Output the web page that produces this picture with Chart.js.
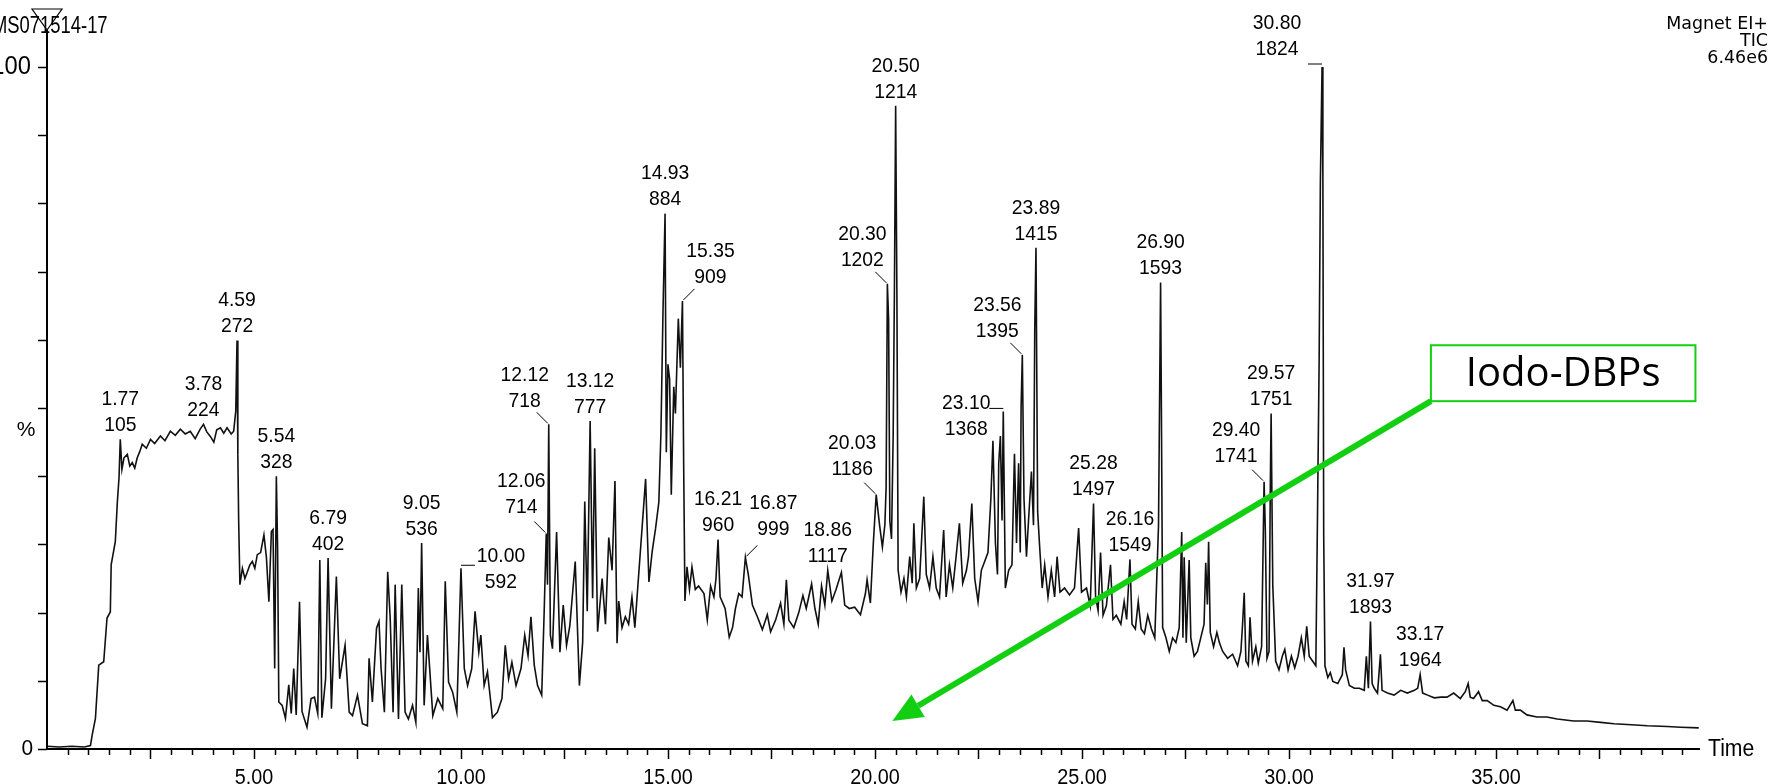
<!DOCTYPE html>
<html>
<head>
<meta charset="utf-8">
<script src="https://cdn.jsdelivr.net/npm/chart.js@4.4.1/dist/chart.umd.min.js"></script>
<style>
  html, body { margin: 0; padding: 0; background: #fff; }
  #chart { display: block; }
</style>
</head>
<body>
<canvas id="chart" width="1771" height="784"></canvas>
<script>
// TIC trace: retention time (min) and relative abundance (%)
const times = [
  0.00, 0.30, 0.60, 0.90, 1.05, 1.09, 1.17, 1.25, 1.37, 1.45,
  1.53, 1.55, 1.65, 1.70, 1.74, 1.77, 1.81, 1.86, 1.94, 2.00,
  2.06, 2.12, 2.18, 2.24, 2.30, 2.40, 2.50, 2.60, 2.74, 2.85,
  2.98, 3.10, 3.22, 3.34, 3.46, 3.58, 3.70, 3.78, 3.86, 3.95,
  4.03, 4.10, 4.19, 4.27, 4.35, 4.45, 4.51, 4.56, 4.59, 4.61,
  4.63, 4.66, 4.72, 4.78, 4.83, 4.90, 4.96, 5.02, 5.08, 5.16,
  5.24, 5.30, 5.36, 5.42, 5.46, 5.50, 5.54, 5.57, 5.60, 5.68,
  5.76, 5.84, 5.90, 5.96, 6.02, 6.10, 6.16, 6.28, 6.38, 6.46,
  6.54, 6.59, 6.64, 6.73, 6.79, 6.87, 6.99, 7.07, 7.20, 7.30,
  7.38, 7.50, 7.62, 7.74, 7.78, 7.86, 7.96, 8.02, 8.07, 8.15,
  8.23, 8.29, 8.36, 8.41, 8.49, 8.57, 8.65, 8.73, 8.83, 8.91,
  8.97, 9.01, 9.05, 9.11, 9.19, 9.32, 9.44, 9.56, 9.62, 9.70,
  9.80, 9.90, 10.00, 10.08, 10.16, 10.26, 10.34, 10.43, 10.48, 10.56,
  10.64, 10.76, 10.88, 10.99, 11.07, 11.15, 11.23, 11.33, 11.45, 11.54,
  11.62, 11.69, 11.77, 11.85, 11.95, 12.01, 12.06, 12.09, 12.12, 12.16,
  12.21, 12.31, 12.39, 12.47, 12.55, 12.63, 12.76, 12.86, 12.94, 12.99,
  13.05, 13.12, 13.18, 13.23, 13.30, 13.41, 13.49, 13.57, 13.65, 13.72,
  13.77, 13.81, 13.89, 13.97, 14.05, 14.13, 14.20, 14.28, 14.36, 14.46,
  14.54, 14.62, 14.70, 14.78, 14.83, 14.88, 14.93, 14.96, 15.00, 15.04,
  15.08, 15.14, 15.18, 15.25, 15.30, 15.35, 15.38, 15.41, 15.46, 15.52,
  15.58, 15.66, 15.74, 15.87, 15.95, 16.03, 16.11, 16.16, 16.21, 16.26,
  16.38, 16.48, 16.56, 16.63, 16.71, 16.79, 16.87, 16.94, 17.04, 17.16,
  17.28, 17.40, 17.48, 17.60, 17.72, 17.80, 17.86, 17.92, 18.04, 18.16,
  18.26, 18.34, 18.47, 18.55, 18.63, 18.71, 18.79, 18.86, 18.96, 19.06,
  19.19, 19.27, 19.38, 19.51, 19.65, 19.77, 19.81, 19.89, 19.96, 20.03,
  20.11, 20.18, 20.24, 20.27, 20.30, 20.33, 20.36, 20.40, 20.44, 20.47,
  20.50, 20.53, 20.56, 20.63, 20.70, 20.76, 20.84, 20.90, 20.94, 21.00,
  21.08, 21.18, 21.24, 21.32, 21.40, 21.48, 21.56, 21.66, 21.72, 21.80,
  21.88, 21.96, 22.04, 22.12, 22.21, 22.26, 22.34, 22.41, 22.49, 22.57,
  22.65, 22.73, 22.80, 22.85, 22.91, 22.96, 22.99, 23.03, 23.07, 23.10,
  23.15, 23.23, 23.31, 23.37, 23.42, 23.47, 23.51, 23.53, 23.56, 23.60,
  23.66, 23.71, 23.78, 23.83, 23.86, 23.89, 23.93, 23.98, 24.04, 24.10,
  24.18, 24.26, 24.34, 24.40, 24.47, 24.58, 24.70, 24.82, 24.92, 24.99,
  25.11, 25.20, 25.28, 25.33, 25.39, 25.45, 25.51, 25.59, 25.69, 25.75,
  25.83, 25.94, 26.02, 26.08, 26.16, 26.21, 26.29, 26.36, 26.43, 26.51,
  26.59, 26.68, 26.76, 26.85, 26.90, 26.92, 26.95, 27.03, 27.11, 27.19,
  27.27, 27.35, 27.41, 27.44, 27.47, 27.52, 27.59, 27.63, 27.71, 27.79,
  27.87, 27.95, 27.99, 28.03, 28.06, 28.10, 28.18, 28.26, 28.32, 28.40,
  28.52, 28.64, 28.76, 28.84, 28.88, 28.92, 28.96, 29.02, 29.06, 29.12,
  29.20, 29.26, 29.34, 29.40, 29.43, 29.47, 29.52, 29.55, 29.57, 29.61,
  29.68, 29.76, 29.84, 29.90, 29.98, 30.06, 30.14, 30.22, 30.30, 30.37,
  30.43, 30.49, 30.57, 30.65, 30.69, 30.73, 30.76, 30.80, 30.82, 30.84,
  30.87, 30.94, 31.00, 31.06, 31.18, 31.29, 31.33, 31.37, 31.46, 31.58,
  31.70, 31.82, 31.87, 31.92, 31.97, 32.01, 32.06, 32.14, 32.21, 32.25,
  32.38, 32.54, 32.70, 32.86, 33.03, 33.11, 33.17, 33.23, 33.35, 33.51,
  33.67, 33.82, 33.98, 34.14, 34.26, 34.33, 34.38, 34.46, 34.58, 34.67,
  34.79, 34.95, 35.11, 35.27, 35.41, 35.47, 35.59, 35.75, 35.99, 36.23,
  36.48, 36.88, 37.20, 37.53, 37.85, 38.17, 38.66, 39.14, 39.46, 39.90
];
const abundance = [
  0.4, 0.3, 0.4, 0.3, 0.5, 2.0, 4.5, 12.3, 12.8, 19.2,
  20.1, 27.0, 30.4, 36.3, 39.8, 45.4, 41.0, 42.7, 43.2, 41.5,
  42.0, 41.2, 42.7, 43.6, 44.7, 44.1, 45.4, 44.8, 45.9, 45.2,
  46.6, 46.0, 46.9, 46.2, 46.6, 45.5, 46.9, 47.6, 46.5, 45.8,
  45.0, 46.8, 47.1, 46.3, 47.1, 46.2, 46.6, 49.6, 59.9, 43.2,
  33.4, 24.1, 26.5, 25.0, 25.8, 27.0, 27.5, 26.5, 28.5, 28.8,
  31.4, 28.1, 21.6, 31.9, 32.2, 11.8, 40.0, 29.6, 6.9, 6.4,
  4.5, 9.4, 5.2, 11.8, 5.0, 21.6, 5.5, 3.2, 7.4, 7.6,
  5.2, 27.7, 4.6, 10.3, 28.0, 5.9, 25.3, 10.3, 15.2, 5.4,
  4.9, 7.9, 3.7, 3.4, 13.3, 6.9, 17.7, 18.7, 11.8, 5.4,
  26.0, 19.2, 5.4, 24.1, 4.4, 24.1, 5.4, 4.4, 6.4, 3.9,
  23.6, 14.2, 30.2, 6.4, 16.7, 4.9, 7.4, 5.9, 24.6, 9.8,
  8.3, 5.4, 26.5, 11.8, 9.3, 11.8, 20.2, 14.2, 16.7, 9.3,
  11.3, 4.6, 5.4, 7.4, 15.2, 10.3, 12.7, 9.3, 11.8, 16.7,
  13.7, 19.4, 12.3, 9.3, 7.9, 20.2, 31.6, 24.1, 47.6, 16.7,
  14.7, 31.8, 14.2, 21.1, 15.2, 18.1, 27.5, 9.3, 15.7, 36.3,
  20.2, 48.1, 22.1, 44.1, 17.2, 25.0, 18.3, 31.0, 26.2, 39.3,
  15.5, 21.7, 17.8, 19.4, 18.3, 22.3, 17.8, 24.5, 31.2, 39.6,
  24.5, 29.0, 32.3, 36.2, 46.3, 64.1, 78.5, 43.5, 56.4, 54.2,
  37.3, 53.1, 49.2, 63.1, 55.9, 65.7, 41.3, 21.7, 26.7, 23.4,
  26.7, 23.4, 23.9, 22.8, 18.9, 23.9, 22.3, 25.0, 30.7, 22.3,
  20.6, 16.4, 17.8, 20.6, 22.8, 22.3, 28.1, 25.6, 21.1, 19.4,
  17.5, 19.7, 17.2, 18.9, 21.4, 18.3, 24.8, 18.9, 17.8, 20.0,
  22.5, 20.6, 24.2, 20.6, 18.3, 23.9, 21.1, 26.2, 21.7, 23.4,
  25.9, 21.1, 20.6, 20.8, 19.7, 22.8, 24.8, 21.4, 30.1, 37.3,
  32.9, 29.6, 32.9, 38.4, 68.2, 63.0, 33.4, 30.8, 45.9, 67.0,
  94.3, 67.0, 26.2, 23.0, 25.0, 22.3, 28.2, 24.3, 33.1, 23.6,
  25.0, 37.0, 25.6, 23.6, 28.2, 23.6, 22.3, 32.1, 22.3, 27.0,
  23.6, 28.2, 33.1, 24.3, 26.2, 28.2, 36.0, 25.0, 21.6, 26.2,
  27.5, 28.8, 36.7, 45.2, 30.2, 25.6, 41.9, 45.9, 33.5, 49.5,
  23.6, 26.2, 27.0, 43.3, 30.2, 41.9, 28.8, 50.0, 57.8, 36.7,
  28.2, 33.5, 40.7, 32.8, 61.4, 73.5, 34.8, 29.5, 23.6, 27.0,
  22.3, 26.2, 22.3, 28.2, 23.0, 23.6, 22.6, 23.6, 32.4, 23.0,
  23.6, 21.0, 36.0, 22.3, 20.3, 28.8, 19.6, 21.0, 27.0, 19.0,
  19.6, 18.3, 21.6, 19.0, 27.8, 18.3, 17.6, 21.6, 17.6, 16.9,
  19.6, 17.6, 16.3, 32.8, 68.4, 49.1, 17.8, 16.3, 14.3, 16.3,
  15.6, 17.8, 31.8, 16.3, 28.1, 15.6, 27.7, 16.3, 13.6, 14.3,
  16.3, 18.3, 27.3, 21.2, 30.4, 17.1, 15.0, 17.1, 15.6, 14.3,
  13.3, 13.9, 12.2, 14.3, 18.3, 22.9, 12.9, 12.2, 19.3, 12.9,
  15.0, 12.6, 15.0, 39.2, 32.1, 13.3, 14.3, 38.2, 49.2, 24.0,
  12.9, 11.6, 13.6, 14.6, 11.6, 13.6, 11.9, 13.6, 16.3, 13.6,
  18.0, 13.6, 12.9, 12.2, 34.1, 57.0, 83.2, 100.0, 84.0, 31.4,
  12.2, 10.5, 11.2, 9.9, 9.6, 10.9, 14.9, 11.6, 9.3, 8.9,
  8.9, 8.6, 13.6, 8.9, 18.7, 9.6, 8.9, 8.2, 13.9, 8.6,
  8.2, 7.9, 8.6, 8.2, 8.6, 8.9, 10.9, 8.2, 7.9, 7.5,
  7.6, 7.6, 8.2, 7.4, 8.4, 9.6, 7.6, 7.4, 8.4, 7.1,
  7.1, 6.4, 6.2, 5.7, 7.1, 5.7, 5.7, 5.0, 4.7, 4.7,
  4.4, 4.1, 4.1, 3.9, 3.7, 3.6, 3.4, 3.3, 3.2, 3.1
];

// labelled peaks: retention time and scan number
const peakTimes = [1.77, 3.78, 4.59, 5.54, 6.79, 9.05, 10.00, 12.06, 12.12, 13.12,
  14.93, 15.35, 16.21, 16.87, 18.86, 20.03, 20.30, 20.50, 23.10, 23.56,
  23.89, 25.28, 26.16, 26.90, 29.40, 29.57, 30.80, 31.97, 33.17];
const peakScans = [105, 224, 272, 328, 402, 536, 592, 714, 718, 777,
  884, 909, 960, 999, 1117, 1186, 1202, 1214, 1368, 1395,
  1415, 1497, 1549, 1593, 1741, 1751, 1824, 1893, 1964];

const xTickLabels = [5, 10, 15, 20, 25, 30, 35];
const yTickValues = [0, 10, 20, 30, 40, 50, 60, 70, 80, 90, 100];

// where a label sits against its peak apex (px), and leader style
const labelPlacement = {
  '10.00': { dx: 40, dy: 14, leader: 'h' },
  '12.06': { dx: -25, dy: -26, leader: 'd' },
  '12.12': { dx: -24, dy: -23, leader: 'd' },
  '15.35': { dx: 28, dy: -24, leader: 'd' },
  '16.87': { dx: 28, dy: -28, leader: 'd' },
  '20.03': { dx: -24, dy: -25, leader: 'd' },
  '20.30': { dx: -25, dy: -24, leader: 'd' },
  '23.10': { dx: -37, dy: 18, leader: 'h' },
  '23.56': { dx: -25, dy: -24, leader: 'd' },
  '29.40': { dx: -28, dy: -25, leader: 'd' },
  '30.80': { dx: -45, dy: -18, leader: 'h' }
};

// green callout, in data units
const callout = { text: 'Iodo-DBPs', left: 33.43, right: 39.82, top: 59.2, bottom: 51.0, tipT: 20.42, tipY: 4.1 };

const green = '#12cf12';
const LABEL_FONT = '"Liberation Sans", Arial, sans-serif';

function squeezeText(ctx, str, x, y, size, align, sx, family) {
  ctx.save();
  ctx.translate(x, y);
  ctx.scale(sx, 1);
  ctx.font = size + 'px ' + (family || LABEL_FONT);
  ctx.textAlign = align;
  ctx.textBaseline = 'middle';
  ctx.fillText(str, 0, 0);
  ctx.restore();
}

const decor = {
  id: 'decor',
  afterDatasetsDraw(chart) {
    const { ctx, chartArea: a, scales: { x, y } } = chart;
    ctx.save();
    ctx.fillStyle = '#000';
    ctx.strokeStyle = '#000';

    // header texts (drawn first, the marker sits over them)
    squeezeText(ctx, 'MS071514-17', -8, 27, 23, 'left', 0.8);
    squeezeText(ctx, 'Magnet EI+', 1768, 24, 18, 'right', 0.97, '"DejaVu Sans", sans-serif');
    squeezeText(ctx, 'TIC', 1768, 41, 18, 'right', 0.97, '"DejaVu Sans", sans-serif');
    squeezeText(ctx, '6.46e6', 1768, 58, 18, 'right', 0.97, '"DejaVu Sans", sans-serif');

    // axes
    ctx.lineWidth = 2;
    ctx.beginPath();
    ctx.moveTo(a.left, a.bottom);
    ctx.lineTo(a.right, a.bottom);
    ctx.moveTo(a.left, a.bottom);
    ctx.lineTo(a.left, 30);
    ctx.stroke();

    // marker triangle on top of the y axis
    ctx.lineWidth = 1.2;
    ctx.beginPath();
    ctx.moveTo(a.left - 15, 9);
    ctx.lineTo(a.left + 15, 9);
    ctx.lineTo(a.left, 30);
    ctx.closePath();
    ctx.stroke();

    // y ticks
    ctx.lineWidth = 1.5;
    yTickValues.forEach(v => {
      const py = Math.round(y.getPixelForValue(v)) + 0.5;
      ctx.beginPath();
      ctx.moveTo(a.left - 9, py);
      ctx.lineTo(a.left, py);
      ctx.stroke();
    });

    // x ticks every 0.5 min, longer every 2.5 min
    for (let i = 1; i * 0.5 <= x.max; i++) {
      const px = Math.round(x.getPixelForValue(i * 0.5)) + 0.5;
      const len = i % 5 === 0 ? 10 : 6;
      ctx.beginPath();
      ctx.moveTo(px, a.bottom);
      ctx.lineTo(px, a.bottom + len);
      ctx.stroke();
    }
    xTickLabels.forEach(v => {
      squeezeText(ctx, v.toFixed(2), x.getPixelForValue(v), a.bottom + 29, 22, 'center', 0.9);
    });
    squeezeText(ctx, 'Time', a.right + 8, a.bottom + 1, 23, 'left', 0.92);

    // y labels (the leading "1" of 100 runs off the left edge)
    squeezeText(ctx, '100', 31, y.getPixelForValue(100), 25, 'right', 0.95);
    squeezeText(ctx, '0', 33, y.getPixelForValue(0), 22, 'right', 0.95);
    squeezeText(ctx, '%', 26, y.getPixelForValue(46.8), 21, 'center', 1.0);

    // peak labels
    ctx.lineWidth = 1;
    peakTimes.forEach((t, i) => {
      const idx = times.indexOf(t);
      const ax = x.getPixelForValue(t);
      const ay = y.getPixelForValue(abundance[idx]);
      const p = labelPlacement[t.toFixed(2)] || { dx: 0, dy: -14 };
      const lx = ax + p.dx;
      const ly = ay + p.dy;
      squeezeText(ctx, t.toFixed(2), lx, ly - 26, 21, 'center', 0.92);
      squeezeText(ctx, String(peakScans[i]), lx, ly, 21, 'center', 0.92);
      const s = Math.sign(p.dx);
      if (p.leader === 'd') {
        ctx.beginPath();
        ctx.moveTo(ax + s * 1, ay - 1);
        ctx.lineTo(ax + s * 12, ay - 12);
        ctx.stroke();
      } else if (p.leader === 'h') {
        ctx.beginPath();
        ctx.moveTo(ax, ay - 3);
        ctx.lineTo(ax + s * 14, ay - 3);
        ctx.stroke();
      }
    });

    // callout box with arrow
    const bx0 = x.getPixelForValue(callout.left);
    const bx1 = x.getPixelForValue(callout.right);
    const by0 = y.getPixelForValue(callout.top);
    const by1 = y.getPixelForValue(callout.bottom);
    ctx.fillStyle = '#fff';
    ctx.fillRect(bx0, by0, bx1 - bx0, by1 - by0);
    ctx.strokeStyle = green;
    ctx.lineWidth = 2;
    ctx.strokeRect(bx0, by0, bx1 - bx0, by1 - by0);
    ctx.fillStyle = '#000';
    squeezeText(ctx, callout.text, (bx0 + bx1) / 2, (by0 + by1) / 2 + 1, 40, 'center', 1.0, '"Open Sans", "Noto Sans", sans-serif');

    const tx = x.getPixelForValue(callout.tipT);
    const ty = y.getPixelForValue(callout.tipY);
    const ang = Math.atan2(ty - by1, tx - bx0);
    const headLen = 30, headW = 13;
    const baseX = tx - Math.cos(ang) * headLen;
    const baseY = ty - Math.sin(ang) * headLen;
    ctx.strokeStyle = green;
    ctx.lineWidth = 6;
    ctx.beginPath();
    ctx.moveTo(bx0, by1);
    ctx.lineTo(baseX, baseY);
    ctx.stroke();
    ctx.fillStyle = green;
    ctx.beginPath();
    ctx.moveTo(tx, ty);
    ctx.lineTo(baseX + Math.sin(ang) * headW, baseY - Math.cos(ang) * headW);
    ctx.lineTo(baseX - Math.sin(ang) * headW, baseY + Math.cos(ang) * headW);
    ctx.closePath();
    ctx.fill();
    ctx.restore();
  }
};

new Chart(document.getElementById('chart'), {
  type: 'line',
  data: {
    datasets: [{
      data: times.map((t, i) => ({ x: t, y: abundance[i] })),
      borderColor: '#111',
      borderWidth: 1.6,
      pointRadius: 0,
      tension: 0,
      fill: false
    }]
  },
  options: {
    responsive: false,
    animation: false,
    devicePixelRatio: 1,
    layout: { padding: { left: 47, right: 71, top: 67, bottom: 35 } },
    plugins: { legend: { display: false }, tooltip: { enabled: false } },
    scales: {
      x: { type: 'linear', min: 0, max: 39.93, display: false },
      y: { min: 0, max: 100, display: false }
    }
  },
  plugins: [decor]
});
</script>
</body>
</html>
